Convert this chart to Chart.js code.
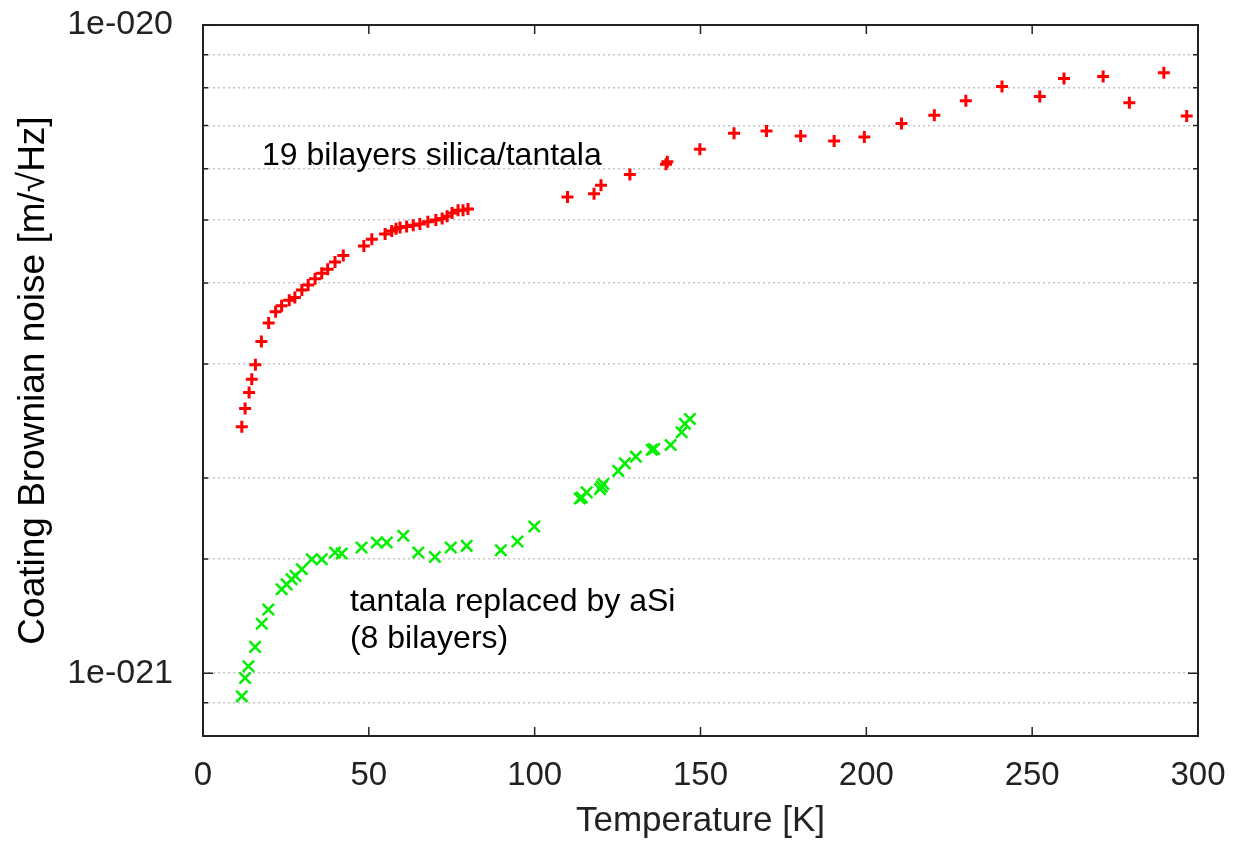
<!DOCTYPE html>
<html>
<head>
<meta charset="utf-8">
<script src="https://cdn.jsdelivr.net/npm/chart.js@4.4.1/dist/chart.umd.min.js"></script>
<style>
  body { margin: 0; background: #fff; }
</style>
</head>
<body>
<canvas id="grafica" width="1238" height="844"></canvas>
<script>
// temperature [K] and noise [m/sqrt(Hz)]
var silicaT = [11.7, 12.7, 13.9, 14.7, 15.8, 17.6, 19.8, 21.9, 23.7, 26.0, 27.7, 29.8, 31.7, 33.8, 35.8, 37.6, 39.8, 42.3,
  48.5, 50.9, 54.9, 56.9, 58.2, 59.4, 61.4, 63.4, 65.4, 67.8, 70.2, 72.1, 73.6, 75.1, 76.9, 78.4, 79.9,
  109.9, 117.9, 120.0, 128.7, 139.6, 140.0, 149.8, 160.1, 169.9, 180.2, 190.3, 199.4, 210.6, 220.5, 230.0,
  240.9, 252.3, 259.6, 271.4, 279.3, 289.7, 296.6];
var silicaNoise = [2.40, 2.56, 2.71, 2.84, 2.99, 3.25, 3.47, 3.61, 3.69, 3.76, 3.80, 3.90, 3.97, 4.06, 4.14, 4.20, 4.31, 4.41,
  4.56, 4.67, 4.76, 4.81, 4.85, 4.87, 4.89, 4.91, 4.93, 4.97, 5.00, 5.03, 5.07, 5.13, 5.18, 5.18, 5.20,
  5.43, 5.49, 5.66, 5.88, 6.10, 6.15, 6.43, 6.81, 6.86, 6.74, 6.62, 6.72, 7.05, 7.26, 7.64,
  8.04, 7.76, 8.27, 8.33, 7.59, 8.44, 7.24];

var asiT = [11.7, 12.7, 13.7, 15.7, 17.7, 19.7, 23.7, 25.2, 26.7, 27.9, 29.8, 32.8, 35.8, 39.8, 41.8, 47.8, 52.4, 55.4,
  60.4, 64.9, 69.9, 74.7, 79.5, 89.8, 94.8, 99.9,
  113.6, 114.2, 115.7, 119.7, 120.2, 120.7, 125.2, 127.2, 130.5, 135.3, 136.0, 141.0, 144.3, 145.3, 146.8];
var asiNoise = [0.921, 0.983, 1.025, 1.098, 1.192, 1.254, 1.347, 1.371, 1.396, 1.413, 1.447, 1.499, 1.499, 1.535, 1.53, 1.563, 1.591, 1.591,
  1.629, 1.535, 1.511, 1.563, 1.572, 1.548, 1.596, 1.684,
  1.86, 1.867, 1.901, 1.923, 1.94, 1.958, 2.052, 2.107, 2.158, 2.212, 2.217, 2.249, 2.353, 2.425, 2.467];

var xTicks = [0, 50, 100, 150, 200, 250, 300];

// text notes: [text, T, noise]
var notes = [
  ['19 bilayers silica/tantala', 17.8, 6.08e-21],
  ['tantala replaced by aSi', 44.3, 1.245e-21],
  ['(8 bilayers)', 44.3, 1.095e-21]
];

var fuente = '"Liberation Sans", Arial, sans-serif';

function pts(xs, ys) {
  return xs.map(function (t, i) { return { x: t, y: ys[i] * 1e-21 }; });
}

function isDecade(v) {
  var e = Math.log10(v);
  return Math.abs(e - Math.round(e)) < 1e-6;
}

var marcoPlugin = {
  id: 'marco',
  afterDatasetsDraw: function (chart) {
    var ctx = chart.ctx, a = chart.chartArea;
    var xs = chart.scales.x, ys = chart.scales.y;
    ctx.save();
    ctx.strokeStyle = '#222';
    ctx.lineWidth = 2;
    ctx.strokeRect(a.left, a.top, a.right - a.left, a.bottom - a.top);
    ctx.lineWidth = 1.5;
    ys.ticks.forEach(function (t) {
      var y = ys.getPixelForValue(t.value);
      var len = isDecade(t.value) ? 10 : 5;
      ctx.beginPath();
      ctx.moveTo(a.left, y); ctx.lineTo(a.left + len, y);
      ctx.moveTo(a.right, y); ctx.lineTo(a.right - len, y);
      ctx.stroke();
    });
    xTicks.forEach(function (v) {
      var x = xs.getPixelForValue(v);
      ctx.beginPath();
      ctx.moveTo(x, a.bottom); ctx.lineTo(x, a.bottom - 9);
      ctx.moveTo(x, a.top); ctx.lineTo(x, a.top + 9);
      ctx.stroke();
    });
    ctx.fillStyle = '#000';
    ctx.font = '32px ' + fuente;
    ctx.textBaseline = 'alphabetic';
    notes.forEach(function (n) {
      ctx.fillText(n[0], xs.getPixelForValue(n[1]), ys.getPixelForValue(n[2]));
    });
    ctx.restore();
  }
};

var micanvas = document.getElementById('grafica').getContext('2d');
var chart = new Chart(micanvas, {
  type: 'scatter',
  data: {
    datasets: [
      {
        label: 'silica/tantala',
        data: pts(silicaT, silicaNoise),
        pointStyle: 'cross',
        pointRadius: 6,
        pointBorderWidth: 3,
        borderColor: '#ff0000',
        backgroundColor: '#ff0000'
      },
      {
        label: 'aSi',
        data: pts(asiT, asiNoise),
        pointStyle: 'crossRot',
        pointRadius: 8,
        pointBorderWidth: 2.5,
        borderColor: '#00f000',
        backgroundColor: '#00f000'
      }
    ]
  },
  options: {
    responsive: false,
    animation: false,
    layout: { padding: { top: 25, right: 40, left: 0, bottom: 0 } },
    plugins: { legend: { display: false }, tooltip: { enabled: false } },
    scales: {
      x: {
        type: 'linear',
        min: 0, max: 300,
        afterBuildTicks: function (s) { s.ticks = xTicks.map(function (v) { return { value: v }; }); },
        afterFit: function (s) { s.height = 108; s.paddingLeft = 0; s.paddingRight = 0; },
        grid: { display: false, drawTicks: false },
        border: { display: false },
        ticks: { padding: 20, color: '#222', font: { size: 33, family: fuente } },
        title: {
          display: true, text: 'Temperature [K]', color: '#222',
          padding: { top: 0, bottom: 2 },
          font: { size: 35, family: fuente }
        }
      },
      y: {
        type: 'logarithmic',
        min: 8e-22, max: 1e-20,
        afterFit: function (s) { s.width = 203; s.paddingTop = 0; s.paddingBottom = 0; },
        grid: { color: '#c4c4c4', lineWidth: 1.5, drawTicks: false },
        border: { display: false, dash: [2, 3] },
        ticks: {
          autoSkip: false,
          padding: 30,
          color: '#222',
          font: { size: 34, family: fuente },
          callback: function (v) {
            if (!isDecade(v)) return '';
            var e = Math.round(Math.log10(v));
            return '1e-' + String(-e).padStart(3, '0');
          }
        },
        title: {
          display: true, text: 'Coating Brownian noise [m/\u221AHz]', color: '#000',
          padding: { top: 12, bottom: 0 },
          font: { size: 37, family: fuente }
        }
      }
    }
  },
  plugins: [marcoPlugin]
});
</script>
</body>
</html>
